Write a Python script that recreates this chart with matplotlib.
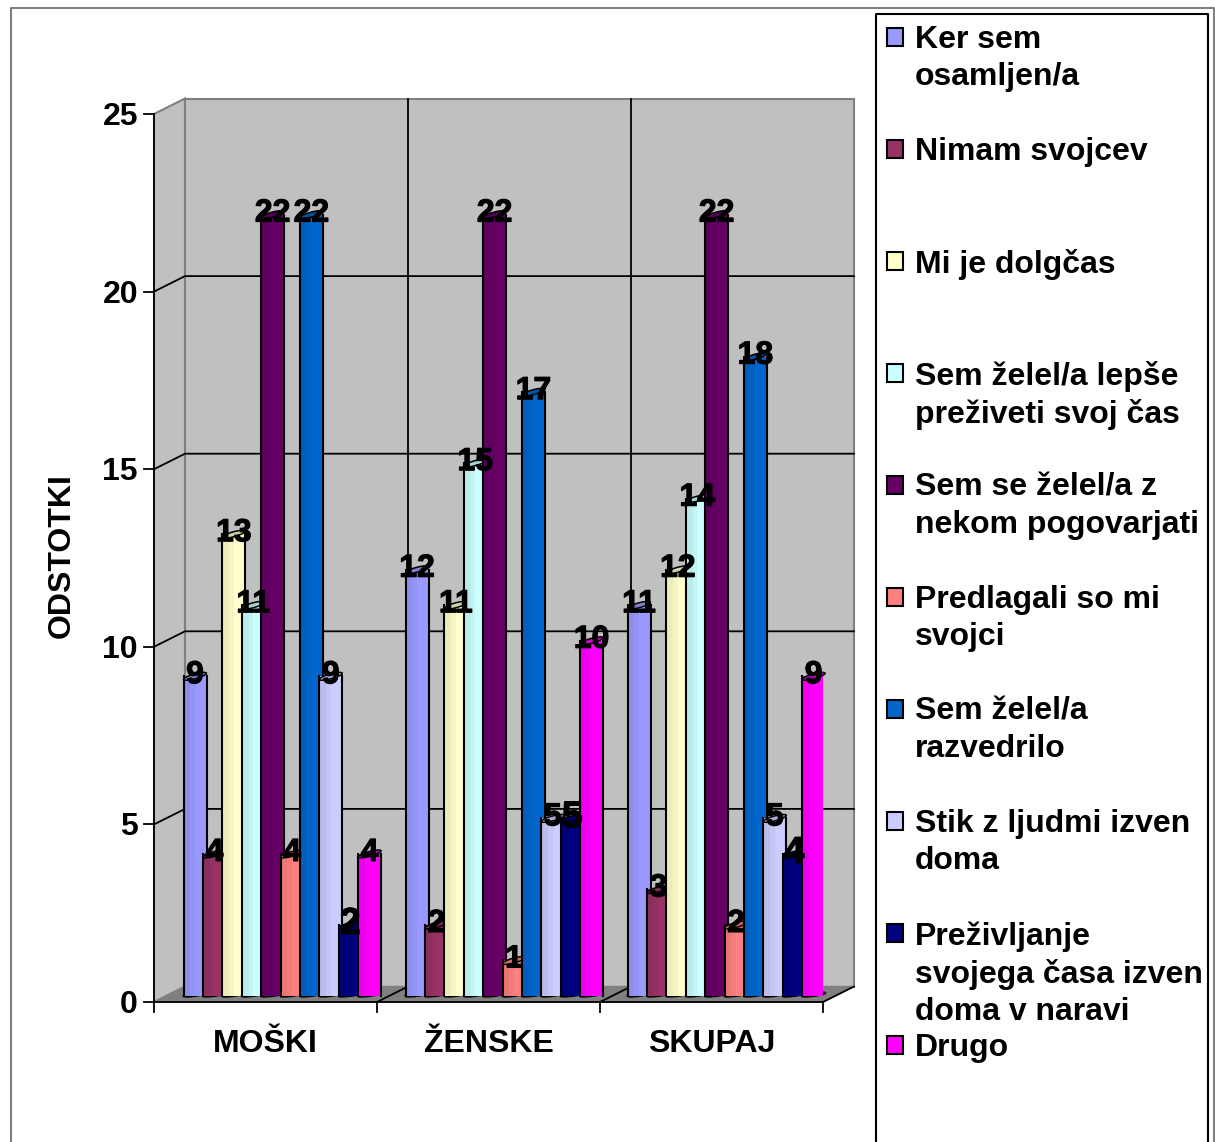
import numpy as np
from matplotlib import pyplot as plt
from matplotlib import patheffects
from matplotlib.patches import Polygon, Rectangle
from matplotlib.lines import Line2D
from matplotlib.colors import to_rgb

categories = ["MOŠKI", "ŽENSKE", "SKUPAJ"]
series_names = ["Ker sem\nosamljen/a",
                "Nimam svojcev",
                "Mi je dolgčas",
                "Sem želel/a lepše\npreživeti svoj čas",
                "Sem se želel/a z\nnekom pogovarjati",
                "Predlagali so mi\nsvojci",
                "Sem želel/a\nrazvedrilo",
                "Stik z ljudmi izven\ndoma",
                "Preživljanje\nsvojega časa izven\ndoma v naravi",
                "Drugo"]
moski = [9, 4, 13, 11, 22, 4, 22, 9, 2, 4]
zenske = [12, 2, 11, 15, 22, 1, 17, 5, 5, 10]
skupaj = [11, 3, 12, 14, 22, 2, 18, 5, 4, 9]
colors = ["#9999ff", "#993366", "#ffffcc", "#ccffff", "#660066",
          "#ff8080", "#0066cc", "#ccccff", "#000080", "#ff00ff"]
y_ticks = [0, 5, 10, 15, 20, 25]

W, H = 1215, 1142
plt.rcParams['font.family'] = ['Liberation Sans', 'DejaVu Sans']
plt.rcParams['font.weight'] = 'bold'
fig = plt.figure(figsize=(W / 100, H / 100), dpi=100)


def fx(x):
    return x / W


def fy(y):
    return 1 - y / H


# front plane of the fake 3d box is the real axes
ax = fig.add_axes([fx(154), fy(1002), fx(823) - fx(154), fy(114) - fy(1002)])
ax.set_xlim(0, 3)
ax.set_ylim(0, 25)
ax.patch.set_visible(False)
for s in ax.spines.values():
    s.set_visible(False)
ax.set_xticks([])
ax.set_yticks([])
ux = 669 / 3
uy = 888 / 25
dx = 31 / ux
dy = 15.5 / uy

# walls and floor
ax.add_patch(Polygon([(0, 0), (dx, dy), (dx, 25 + dy), (0, 25)], fc="#c0c0c0", ec="#808080", lw=1.5, clip_on=False, zorder=1))
ax.add_patch(Polygon([(dx, dy), (3 + dx, dy), (3 + dx, 25 + dy), (dx, 25 + dy)], fc="#c0c0c0", ec="#808080", lw=1.5, clip_on=False, zorder=1))
ax.add_patch(Polygon([(0, 0), (3, 0), (3 + dx, dy), (dx, dy)], fc="#808080", ec="#808080", lw=1, clip_on=False, zorder=1.5))

# grid
for v in y_ticks[1:-1]:
    ax.plot([0, dx, 3 + dx], [v, v + dy, v + dy], color="black", lw=1.3, clip_on=False, zorder=2)
for i in [1, 2]:
    ax.plot([i + dx, i + dx], [dy, 25 + dy], color="black", lw=1.3, clip_on=False, zorder=2)
for i in [1, 2, 3]:
    ax.plot([i, i + dx], [0, dy], color="black", lw=1.3, clip_on=False, zorder=2)

# axis lines and ticks
ax.plot([0, 0], [0, 25], color="black", lw=1.3, clip_on=False, zorder=2)
ax.plot([0, 3], [0, 0], color="black", lw=1.3, clip_on=False, zorder=2)
for v in y_ticks:
    ax.plot([-10 / ux, 0], [v, v], color="black", lw=1.3, clip_on=False, zorder=2)
    ax.text(-16 / ux, v - 3 / uy, str(v), ha="right", va="center", fontsize=23, fontweight="bold")
for i in range(4):
    ax.plot([i, i], [0, -10 / uy], color="black", lw=1.3, clip_on=False, zorder=2)
for i, c in enumerate(categories):
    ax.text(i + 0.5, -42 / uy, c, ha="center", va="center", fontsize=23, fontweight="bold")
ax.text(fx(62), fy(556), "ODSTOTKI", rotation=90, ha="center", va="center",
        fontsize=23, fontweight="bold", transform=fig.transFigure)

# bars, every one is drawn over the previous one
step = 19.4 / ux
bw = 23 / ux
lift = 6 / uy
tt = np.linspace(0, 2 * np.pi, 60)
thick = [patheffects.withStroke(linewidth=0.8, foreground="black")]
z = 3
for g, vals in enumerate([moski, zenske, skupaj]):
    for j, v in enumerate(vals):
        x0 = g * 222 / ux + 29.5 / ux + j * step
        col = np.array(to_rgb(colors[j]))
        cap_x = x0 + bw / 2 + bw / 2 * np.cos(tt)
        ring = 2.5 / uy * np.sin(tt) + 3 / uy * np.cos(tt)
        foot = 1.5 / uy * np.sin(tt) + 1.5 / uy * np.cos(tt)
        ax.add_patch(Polygon(np.c_[cap_x, lift + 1.5 / uy + foot], fc=col * 0.9, ec="black", lw=1.5, zorder=z, clip_on=False))
        ax.bar(x0, v, bw, bottom=lift, align="edge", color=col, lw=0, zorder=z + 0.1)
        ax.bar(x0, v, bw * 0.3, bottom=lift, align="edge", color=col * 0.92, lw=0, zorder=z + 0.2)
        ax.bar(x0 + bw * 0.3, v, bw * 0.2, bottom=lift, align="edge", color=col * 0.96, lw=0, zorder=z + 0.2)
        ax.plot([x0, x0], [lift, lift + v], color="black", lw=1.5, zorder=z + 0.3)
        ax.plot([x0 + bw, x0 + bw], [lift, lift + v], color="black", lw=1.5, zorder=z + 0.3)
        ax.add_patch(Polygon(np.c_[cap_x, lift + v + ring], fc=col * 0.82, ec="black", lw=1.1, zorder=z + 0.4, clip_on=False))
        size = 27 if j == 8 else 23
        base = lift + v - (9 if j == 8 else 7) / uy
        ax.text(x0 + bw / 2, base, str(v), ha="center", va="baseline", fontsize=size,
                fontweight="bold", zorder=200, clip_on=False, path_effects=thick)
        z += 1

# outer frame
fig.add_artist(Line2D([fx(11), fx(11), fx(1214), fx(1214)], [fy(1142), fy(8), fy(8), fy(1142)], color="#808080", lw=1.5))
fig.add_artist(Line2D([fx(876), fx(876), fx(1208), fx(1208)], [fy(1142), fy(14), fy(14), fy(1142)], color="black", lw=1.5))

# legend
legend_y = [37, 149, 261, 373, 485, 597, 709, 821, 933, 1045]
for name, col, y in zip(series_names, colors, legend_y):
    fig.add_artist(Rectangle((fx(887), fy(y + 9)), 16 / W, 18 / H, fc=col, ec="black", lw=1.5, transform=fig.transFigure))
    fig.text(fx(915), fy(y - 12), name, ha="left", va="top", fontsize=23, fontweight="bold", linespacing=1.3)

fig.savefig("out.png", dpi=100)
